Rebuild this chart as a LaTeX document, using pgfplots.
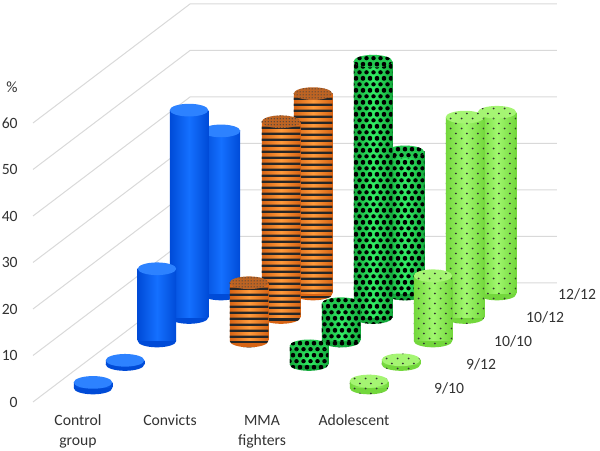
\documentclass[border=0pt]{standalone}
\usepackage{fontspec}
\setmainfont{Carlito}
\usepackage{pgfplots}
\pgfplotsset{compat=1.18}
\usetikzlibrary{patterns,shapes.geometric}

\definecolor{gridc}{RGB}{217,217,217}
\definecolor{txt}{RGB}{50,50,50}
\definecolor{bluedk}{RGB}{0,75,215}
\definecolor{bluemid}{RGB}{20,112,255}
\definecolor{bluetop}{RGB}{45,130,255}
\definecolor{ordk}{RGB}{215,100,20}
\definecolor{ormid}{RGB}{255,155,60}
\definecolor{ortop}{RGB}{190,100,35}
\definecolor{dgdk}{RGB}{20,170,60}
\definecolor{dgmid}{RGB}{50,235,100}
\definecolor{dgtop}{RGB}{35,200,80}
\definecolor{lgdk}{RGB}{115,215,60}
\definecolor{lgmid}{RGB}{160,248,110}
\definecolor{lgtop}{RGB}{165,245,115}

% form-only patterns
\pgfdeclarepatternformonly{hstripes}{\pgfqpoint{0pt}{0pt}}{\pgfqpoint{200pt}{3.4pt}}{\pgfqpoint{200pt}{3.4pt}}{%
  \pgfpathrectangle{\pgfqpoint{0pt}{0pt}}{\pgfqpoint{200pt}{1.45pt}}\pgfusepath{fill}}
\pgfdeclarepatternformonly{hexdots}{\pgfqpoint{0pt}{0pt}}{\pgfqpoint{4.2pt}{7.27pt}}{\pgfqpoint{4.2pt}{7.27pt}}{%
  \pgfpathcircle{\pgfqpoint{0pt}{0pt}}{1.35pt}
  \pgfpathcircle{\pgfqpoint{4.2pt}{0pt}}{1.35pt}
  \pgfpathcircle{\pgfqpoint{0pt}{7.27pt}}{1.35pt}
  \pgfpathcircle{\pgfqpoint{4.2pt}{7.27pt}}{1.35pt}
  \pgfpathcircle{\pgfqpoint{2.1pt}{3.635pt}}{1.35pt}
  \pgfusepath{fill}}
\pgfdeclarepatternformonly{sparsedots}{\pgfqpoint{0pt}{0pt}}{\pgfqpoint{6.4pt}{6pt}}{\pgfqpoint{6.4pt}{6pt}}{%
  \pgfpathcircle{\pgfqpoint{1.6pt}{1.5pt}}{0.55pt}
  \pgfpathcircle{\pgfqpoint{4.8pt}{4.5pt}}{0.55pt}
  \pgfusepath{fill}}
\pgfdeclarepatternformonly{finedots}{\pgfqpoint{0pt}{0pt}}{\pgfqpoint{1.6pt}{1.6pt}}{\pgfqpoint{1.6pt}{1.6pt}}{%
  \pgfpathcircle{\pgfqpoint{0.8pt}{0.8pt}}{0.42pt}
  \pgfusepath{fill}}

\tikzset{
  Cbase/.style={fill=bluedk},
  Cside/.style={left color=bluedk, right color=bluedk, middle color=bluemid},
  Ctop/.style={fill=bluetop},
  Vbase/.style={preaction={fill=ordk}, pattern=hstripes, pattern color=black!85},
  Vside/.style={preaction={left color=ordk, right color=ordk, middle color=ormid}, pattern=hstripes, pattern color=black!85},
  Vtop/.style={preaction={fill=ortop}, pattern=finedots, pattern color=black!75},
  Mbase/.style={preaction={fill=dgdk}, pattern=hexdots, pattern color=black},
  Mside/.style={preaction={left color=dgdk, right color=dgdk, middle color=dgmid}, pattern=hexdots, pattern color=black},
  Mtop/.style={preaction={fill=dgtop}, pattern=hexdots, pattern color=black},
  Abase/.style={preaction={fill=lgdk}, pattern=sparsedots, pattern color=black!80},
  Aside/.style={preaction={left color=lgdk, right color=lgdk, middle color=lgmid}, pattern=sparsedots, pattern color=black!80},
  Atop/.style={preaction={fill=lgtop}, pattern=sparsedots, pattern color=black!80},
  ell/.style={ellipse, inner sep=0pt, minimum width=23.1pt, minimum height=7.6pt, anchor=center},
  deplabel/.style={font=\fontsize{9.4}{12}\selectfont, text=txt, anchor=center}
}

% one cylinder: #1 = group style prefix, #2 = category index, #3 = value (%)
\newcommand{\cyl}[3]{%
  \addplot[ybar, bar width=23.1pt, bar shift=0pt, draw=none, fill=none,
    nodes near coords={\mbox{}},
    every node near coord/.append style={ell, #1base, anchor=center}]
    coordinates {(#2,0)};
  \addplot[ybar, bar width=23.1pt, bar shift=0pt, draw=none, #1side]
    coordinates {(#2,#3)};
  \addplot[ybar, bar width=23.1pt, bar shift=0pt, draw=none, fill=none,
    nodes near coords={\mbox{}},
    every node near coord/.append style={ell, #1top, anchor=center}]
    coordinates {(#2,#3)};
}

\pgfplotsset{
  rowaxis/.style={
    anchor=south west, x=55.2pt, y=2.796pt,
    xmin=-0.5, xmax=3.5, ymin=0, ymax=60,
    enlargelimits=false, clip=false, clip mode=individual,
    axis line style={draw=none}, major tick length=0pt,
    xtick=\empty, ytick=\empty
  }
}

\begin{document}
\begin{tikzpicture}
\useasboundingbox (0,0) rectangle (360pt,270.6pt);

% walls: y axis with gridlines
\begin{axis}[
  at={(19.8pt,29.4pt)}, anchor=south west,
  x=94.2pt, y=2.79pt, xmin=0, xmax=1, ymin=0, ymax=60,
  enlargelimits=false, clip=false,
  axis line style={draw=none}, major tick length=0pt,
  xtick=\empty, ytick={0,10,...,60},
  /pgf/number format/assume math mode=true,
  yticklabel style={font=\fontsize{9.4}{12}\selectfont, text=txt, anchor=east, inner sep=0pt, xshift=-9pt}
]
\pgfplotsinvokeforeach{0,10,20,30,40,50,60}{
  \draw[gridc, line width=0.6pt] (axis cs:0,#1) -- ++(94.2pt,71.4pt) -- ++(220.2pt,0pt);
}
\end{axis}
\node[font=\fontsize{9.4}{12}\selectfont, text=txt] at (7.2pt,218.4pt) {\%};

% row 12/12 (back)
\begin{axis}[rowaxis, at={(105.0pt,94.2pt)}]
\cyl{C}{0}{35}
\cyl{V}{1}{43}
\cyl{M}{2}{30.5}
\cyl{A}{3}{39}
\node[deplabel] at (axis cs:3.87,0) {12/12};
\end{axis}

% row 10/12
\begin{axis}[rowaxis, at={(85.8pt,80.1pt)}]
\cyl{C}{0}{44.5}
\cyl{V}{1}{42}
\cyl{M}{2}{55}
\cyl{A}{3}{43}
\node[deplabel] at (axis cs:3.87,0) {10/12};
\end{axis}

% row 10/10
\begin{axis}[rowaxis, at={(66.6pt,66.0pt)}]
\cyl{C}{0}{15.5}
\cyl{V}{1}{12.5}
\cyl{M}{2}{8}
\cyl{A}{3}{14}
\node[deplabel] at (axis cs:3.87,0) {10/10};
\end{axis}

% row 9/12
\begin{axis}[rowaxis, at={(47.4pt,51.9pt)}]
\cyl{C}{0}{0.9}
\cyl{M}{2}{4}
\cyl{A}{3}{1}
\node[deplabel] at (axis cs:3.87,0) {9/12};
\end{axis}

% row 9/10 (front) with category labels
\begin{axis}[rowaxis, at={(28.2pt,37.8pt)},
  xtick={-0.163,0.837,1.837,2.837},
  xticklabels={{Control\\group},Convicts,{MMA\\fighters},Adolescent},
  xticklabel style={font=\fontsize{9.4}{12}\selectfont, text=txt, align=center, anchor=north, inner sep=0pt, yshift=-16pt}]
\cyl{C}{0}{1.2}
\cyl{A}{3}{1.5}
\node[deplabel] at (axis cs:3.87,0) {9/10};
\end{axis}
\end{tikzpicture}
\end{document}
